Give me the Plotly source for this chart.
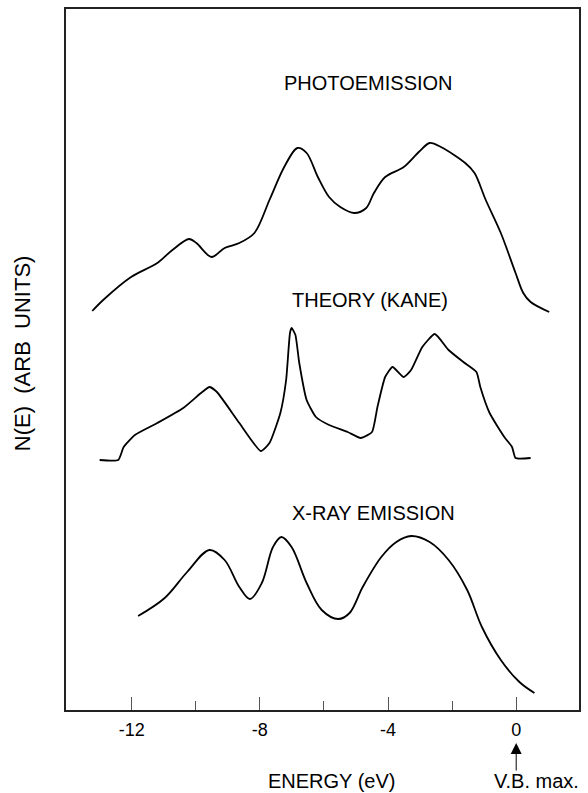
import plotly.graph_objects as go

# Energy (eV) and N(E) (arbitrary units)
photo_E = [-13.23, -12.89, -12.02, -11.20, -10.73, -10.21, -9.98, -9.51, -9.10, -8.64, -8.17,
           -7.70, -7.24, -6.83, -6.54, -6.19, -5.84, -5.49, -5.05, -4.68, -4.44, -4.09, -3.51,
           -3.04, -2.70, -2.35, -1.59, -1.30, -0.95, -0.48, -0.02, 0.22, 0.45, 1.03]
photo_N = [39.9, 41.0, 43.3, 44.7, 46.0, 47.1, 46.7, 45.3, 46.2, 46.7, 47.7,
           51.0, 54.3, 56.2, 55.7, 53.3, 51.3, 50.3, 49.7, 50.2, 51.7, 53.3, 54.3,
           55.8, 56.7, 56.3, 54.7, 53.7, 51.0, 47.7, 43.7, 41.7, 40.8, 39.8]

theory_E = [-13.00, -12.42, -12.25, -11.90, -11.20, -10.39, -9.80, -9.57, -9.34, -8.64, -7.97,
            -7.70, -7.36, -7.18, -7.06, -7.01, -6.89, -6.77, -6.54, -6.25, -5.84, -5.26, -4.85,
            -4.50, -4.33, -4.09, -3.86, -3.51, -3.28, -2.93, -2.54, -2.11, -1.65, -1.24, -1.12,
            -0.83, -0.37, -0.13, -0.02, 0.45]
theory_N = [25.0, 25.0, 26.3, 27.5, 28.7, 30.2, 31.8, 32.3, 31.8, 28.7, 25.9,
            26.7, 29.7, 33.0, 37.7, 38.2, 37.5, 34.7, 31.0, 29.3, 28.5, 27.8, 27.2,
            27.8, 30.3, 33.3, 34.3, 33.3, 34.0, 36.3, 37.6, 36.0, 34.8, 33.8, 32.3,
            29.7, 27.3, 26.3, 25.2, 25.2]

xray_E = [-11.80, -10.97, -10.27, -9.57, -9.10, -8.64, -8.31, -7.94, -7.59, -7.33, -7.01,
          -6.54, -6.07, -5.55, -5.20, -4.79, -4.21, -3.74, -3.28, -2.70, -2.11, -1.53,
          -1.07, -0.48, 0.10, 0.57]
xray_N = [9.4, 11.2, 13.8, 16.0, 15.0, 12.3, 11.1, 12.7, 16.3, 17.3, 16.3,
          12.7, 10.0, 9.1, 9.7, 12.3, 15.3, 16.8, 17.4, 16.8, 15.0, 12.0,
          8.3, 5.0, 2.8, 1.7]

major_ticks = [-12, -8, -4, 0]
major_text = ["-12", "-8", "-4", "0"]
minor_ticks = [-10, -6, -2]

FONT = "Liberation Sans"
W, H = 588, 793
L, R, T, B = 66, 7, 9, 83
PW, PH = W - L - R, H - T - B


def px_x(p):
    return (p - L) / PW


def px_y(p):
    return (H - B - p) / PH


fig = go.Figure()
fig.add_trace(go.Scatter(x=photo_E, y=photo_N, mode="lines",
                         line=dict(color="black", width=1.8, shape="spline", smoothing=0.9),
                         name="Photoemission"))
fig.add_trace(go.Scatter(x=theory_E, y=theory_N, mode="lines",
                         line=dict(color="black", width=1.8, shape="spline", smoothing=0.5),
                         name="Theory (Kane)"))
fig.add_trace(go.Scatter(x=xray_E, y=xray_N, mode="lines",
                         line=dict(color="black", width=1.8, shape="spline", smoothing=1.0),
                         name="X-ray emission"))

fig.update_layout(
    width=W, height=H,
    margin=dict(l=L, r=R, t=T, b=B),
    paper_bgcolor="white", plot_bgcolor="white",
    showlegend=False,
    font=dict(family=FONT, color="black"),
    xaxis=dict(range=[-14.05, 1.96], showgrid=False, zeroline=False,
               showline=True, linecolor="#222", linewidth=1.5, mirror=True,
               tickvals=major_ticks, ticktext=major_text, ticks="inside", ticklen=13,
               tickwidth=1, tickcolor="#555", tickfont=dict(size=18, family=FONT),
               ticklabelstandoff=3,
               minor=dict(tickvals=minor_ticks, ticks="inside", ticklen=9,
                          tickwidth=1, tickcolor="#555", showgrid=False)),
    yaxis=dict(range=[0, 70.1], showgrid=False, zeroline=False,
               showline=True, linecolor="#222", linewidth=1.5, mirror=True,
               showticklabels=False, ticks=""),
)

labels = [("PHOTOEMISSION", -4.6, 62.7), ("THEORY (KANE)", -4.57, 41.0), ("X-RAY EMISSION", -4.44, 19.7)]
for txt, xv, yv in labels:
    fig.add_annotation(x=xv, y=yv, xref="x", yref="y", text=txt, showarrow=False,
                       xanchor="center", yanchor="middle",
                       font=dict(size=20, family=FONT, color="black"))

fig.add_annotation(x=px_x(333), y=px_y(781), xref="paper", yref="paper",
                   xanchor="center", yanchor="middle",
                   text="ENERGY (eV)", showarrow=False, font=dict(size=20, family=FONT))
fig.add_annotation(x=px_x(494), y=px_y(781), xref="paper", yref="paper",
                   xanchor="left", yanchor="middle",
                   text="V.B. max.", showarrow=False, font=dict(size=20, family=FONT))
fig.add_annotation(x=0, y=px_y(743), xref="x", yref="paper", text="", showarrow=True,
                   ax=0, ay=29, arrowhead=2, arrowsize=2.2, arrowwidth=1, arrowcolor="black")
fig.add_annotation(x=px_x(22), y=px_y(353), xref="paper", yref="paper",
                   xanchor="center", yanchor="middle",
                   text="N(E)  (ARB  UNITS)", textangle=-90, showarrow=False,
                   font=dict(size=22, family=FONT))

fig.write_html("out.html", config={"displayModeBar": False},
               post_script="document.body.style.margin='0';")
